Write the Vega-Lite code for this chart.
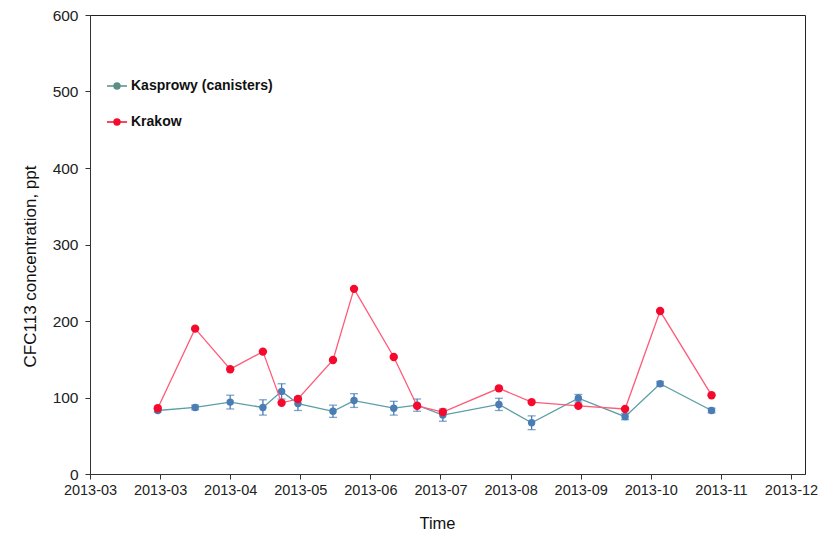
{
  "$schema": "https://vega.github.io/schema/vega-lite/v6.json",
  "width": 715,
  "height": 459,
  "autosize": {"type": "none"},
  "padding": {"left": 90, "top": 15, "right": 25, "bottom": 61},
  "background": "white",
  "config": {
    "font": "Liberation Sans",
    "view": {"stroke": "#222", "strokeWidth": 1},
    "axis": {
      "grid": false,
      "domainColor": "#333",
      "tickColor": "#333",
      "labelColor": "#222",
      "titleColor": "#111",
      "titleFontWeight": "normal"
    }
  },
  "data": {
    "values": [
      {"date": "2013-03-30", "site": "Kasprowy (canisters)", "value": 83, "err": 2},
      {"date": "2013-04-15", "site": "Kasprowy (canisters)", "value": 87, "err": 3},
      {"date": "2013-04-30", "site": "Kasprowy (canisters)", "value": 94, "err": 9},
      {"date": "2013-05-14", "site": "Kasprowy (canisters)", "value": 87, "err": 10},
      {"date": "2013-05-22", "site": "Kasprowy (canisters)", "value": 108, "err": 10},
      {"date": "2013-05-29", "site": "Kasprowy (canisters)", "value": 92, "err": 9},
      {"date": "2013-06-13", "site": "Kasprowy (canisters)", "value": 82, "err": 8},
      {"date": "2013-06-22", "site": "Kasprowy (canisters)", "value": 96, "err": 9},
      {"date": "2013-07-09", "site": "Kasprowy (canisters)", "value": 86, "err": 9},
      {"date": "2013-07-19", "site": "Kasprowy (canisters)", "value": 90, "err": 8},
      {"date": "2013-07-30", "site": "Kasprowy (canisters)", "value": 77, "err": 8},
      {"date": "2013-08-23", "site": "Kasprowy (canisters)", "value": 91, "err": 8},
      {"date": "2013-09-06", "site": "Kasprowy (canisters)", "value": 67, "err": 9},
      {"date": "2013-09-26", "site": "Kasprowy (canisters)", "value": 99, "err": 5},
      {"date": "2013-10-16", "site": "Kasprowy (canisters)", "value": 75, "err": 4},
      {"date": "2013-10-31", "site": "Kasprowy (canisters)", "value": 118, "err": 3},
      {"date": "2013-11-22", "site": "Kasprowy (canisters)", "value": 83, "err": 3},
      {"date": "2013-03-30", "site": "Krakow", "value": 86, "err": 0},
      {"date": "2013-04-15", "site": "Krakow", "value": 190, "err": 0},
      {"date": "2013-04-30", "site": "Krakow", "value": 137, "err": 0},
      {"date": "2013-05-14", "site": "Krakow", "value": 160, "err": 0},
      {"date": "2013-05-22", "site": "Krakow", "value": 93, "err": 0},
      {"date": "2013-05-29", "site": "Krakow", "value": 98, "err": 0},
      {"date": "2013-06-13", "site": "Krakow", "value": 149, "err": 0},
      {"date": "2013-06-22", "site": "Krakow", "value": 242, "err": 0},
      {"date": "2013-07-09", "site": "Krakow", "value": 153, "err": 0},
      {"date": "2013-07-19", "site": "Krakow", "value": 89, "err": 0},
      {"date": "2013-07-30", "site": "Krakow", "value": 81, "err": 0},
      {"date": "2013-08-23", "site": "Krakow", "value": 112, "err": 0},
      {"date": "2013-09-06", "site": "Krakow", "value": 94, "err": 0},
      {"date": "2013-09-26", "site": "Krakow", "value": 89, "err": 0},
      {"date": "2013-10-16", "site": "Krakow", "value": 85, "err": 0},
      {"date": "2013-10-31", "site": "Krakow", "value": 213, "err": 0},
      {"date": "2013-11-22", "site": "Krakow", "value": 103, "err": 0}
    ]
  },
  "encoding": {
    "x": {
      "field": "date",
      "type": "temporal",
      "scale": {
        "type": "utc",
        "domain": [
          {"year": 2013, "month": 3, "date": 1, "utc": true},
          {"year": 2014, "month": 1, "date": 1, "utc": true}
        ]
      },
      "axis": {
        "title": "Time",
        "labelExpr": "utcFormat(datum.value, '%Y-%m')",
        "values": [
          {"year": 2013, "month": 3, "date": 1, "utc": true},
          {"year": 2013, "month": 3, "date": 31, "utc": true},
          {"year": 2013, "month": 4, "date": 30, "utc": true},
          {"year": 2013, "month": 5, "date": 30, "utc": true},
          {"year": 2013, "month": 6, "date": 29, "utc": true},
          {"year": 2013, "month": 7, "date": 29, "utc": true},
          {"year": 2013, "month": 8, "date": 28, "utc": true},
          {"year": 2013, "month": 9, "date": 27, "utc": true},
          {"year": 2013, "month": 10, "date": 27, "utc": true},
          {"year": 2013, "month": 11, "date": 26, "utc": true},
          {"year": 2013, "month": 12, "date": 26, "utc": true}
        ],
        "labelFontSize": 14.5,
        "labelPadding": 4,
        "tickSize": 5,
        "labelOverlap": false,
        "labelFlush": false,
        "titleFontSize": 16.5,
        "titleX": 347,
        "titleY": 49,
        "titleAlign": "center",
        "titleBaseline": "middle"
      }
    },
    "y": {
      "field": "value",
      "type": "quantitative",
      "scale": {"domain": [0, 600], "nice": false},
      "axis": {
        "title": "CFC113 concentration, ppt",
        "values": [0, 100, 200, 300, 400, 500, 600],
        "labelFontSize": 15.5,
        "labelPadding": 7,
        "tickSize": 5,
        "titleFontSize": 17,
        "titleAngle": -90,
        "titleX": -60,
        "titleY": 251,
        "titleAlign": "center",
        "titleBaseline": "middle"
      }
    }
  },
  "layer": [
    {
      "transform": [{"filter": "datum.site == 'Kasprowy (canisters)'"}],
      "mark": {"type": "line", "strokeWidth": 1.3, "color": "#5a9ea6"},
      "encoding": {}
    },
    {
      "transform": [{"filter": "datum.err > 0"}],
      "mark": {"type": "errorbar", "ticks": {"size": 8, "thickness": 1.3}, "thickness": 1.3, "color": "#4a7db5"},
      "encoding": {
        "yError": {"field": "err"}
      }
    },
    {
      "transform": [{"filter": "datum.site == 'Kasprowy (canisters)'"}],
      "mark": {"type": "circle", "size": 55, "opacity": 1, "color": "#4a7db5"},
      "encoding": {}
    },
    {
      "transform": [{"filter": "datum.site == 'Krakow'"}],
      "mark": {"type": "line", "strokeWidth": 1.3, "color": "#ff5a78"},
      "encoding": {}
    },
    {
      "transform": [{"filter": "datum.site == 'Krakow'"}],
      "mark": {"type": "circle", "size": 70, "opacity": 1, "color": "#f50a2d"},
      "encoding": {}
    },
    {
      "mark": {"type": "point", "filled": true, "opacity": 0, "size": 1},
      "encoding": {
        "color": {
          "field": "site",
          "type": "nominal",
          "scale": {"domain": ["Kasprowy (canisters)", "Krakow"], "range": ["#5b8f86", "#f50a2d"]},
          "legend": {
            "title": null,
            "orient": "none",
            "legendX": 16,
            "legendY": 60,
            "symbolType": "M-1,0H1M-0.3,0A0.3,0.3,0,1,0,0.3,0A0.3,0.3,0,1,0,-0.3,0Z",
            "symbolSize": 400,
            "symbolStrokeWidth": 1.4,
            "symbolOpacity": 1,
            "labelFontSize": 14,
            "labelFontWeight": "bold",
            "labelColor": "#111",
            "labelOffset": 3,
            "labelLimit": 400,
            "rowPadding": 18,
            "encode": {
              "symbols": {
                "update": {
                  "stroke": {"scale": "color", "field": "value"},
                  "fill": {"scale": "color", "field": "value"},
                  "opacity": {"value": 1}
                }
              }
            }
          }
        }
      }
    }
  ]
}
